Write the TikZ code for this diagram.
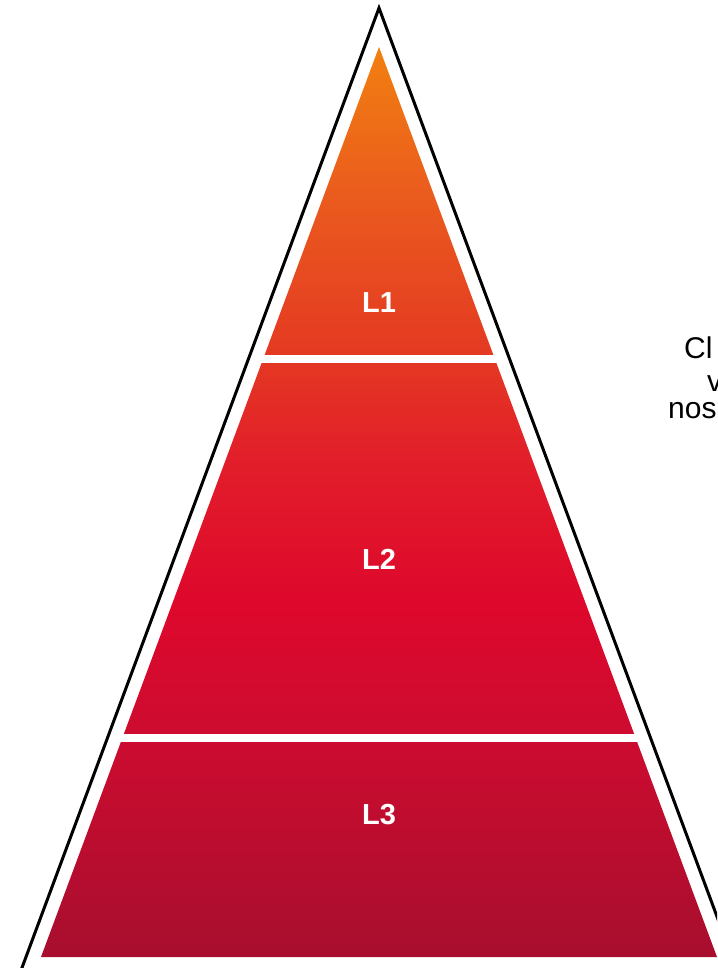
\documentclass[tikz,border=0pt]{standalone}
\usepackage{fontspec}
\setmainfont{Liberation Sans}
\usetikzlibrary{positioning}

\definecolor{pyrA}{HTML}{A80E2E}
\definecolor{pyrB}{HTML}{CC0C30}
\definecolor{pyrC}{HTML}{DE082C}
\definecolor{pyrD}{HTML}{E21E2A}
\definecolor{pyrE}{HTML}{E43A22}
\definecolor{pyrF}{HTML}{EA5A1E}
\definecolor{pyrG}{HTML}{F28010}

\pgfdeclareverticalshading{pyramid}{100bp}{%
  color(0bp)=(pyrA); color(25bp)=(pyrA); color(36.9bp)=(pyrB);
  color(44.6bp)=(pyrC); color(52.3bp)=(pyrD); color(58.3bp)=(pyrE);
  color(66.6bp)=(pyrF); color(75bp)=(pyrG); color(100bp)=(pyrG)}

\tikzset{
  level/.style={font=\fontsize{29}{34}\selectfont\bfseries, text=white},
  sidetext/.style={font=\fontsize{30}{34}\selectfont, anchor=base west,
                   inner sep=0pt},
  outline/.style={draw=black, line width=3pt},
  gap/.style={draw=white, line width=8pt},
}

\begin{document}
\begin{tikzpicture}[x=1pt, y=-1pt]
  \useasboundingbox (0,0) rectangle (717,968);
  \clip (0,0) rectangle (717,968);

  % --- Outer triangle ---
  \coordinate (top) at (379,8);
  \coordinate (left) at (7.0,1008);
  \coordinate (right) at (751.0,1008);
  \draw[outline] (left) -- (top) -- (right);

  % --- Filled pyramid ---
  \coordinate (itop) at (379,47);
  \coordinate (ileft) at (41,957);
  \coordinate (iright) at (717,957);
  \shade[shading=pyramid] (ileft) -- (itop) -- (iright) -- cycle;

  % --- Separators ---
  \draw[gap] (257,359) -- (501,359);
  \draw[gap] (116,738) -- (642,738);

  % --- Labels ---
  \node[level] (l1) at (379,303) {L1};
  \node[level] (l2) at (379,559) {L2};
  \node[level] (l3) at (379,815) {L3};

  % --- Cut-off text on the right ---
  \node[sidetext] (t1) at (684,358) {Cl};
  \node[sidetext] (t2) at (707,391) {v};
  \node[sidetext] (t3) at (668,418) {nos};

\end{tikzpicture}
\end{document}
